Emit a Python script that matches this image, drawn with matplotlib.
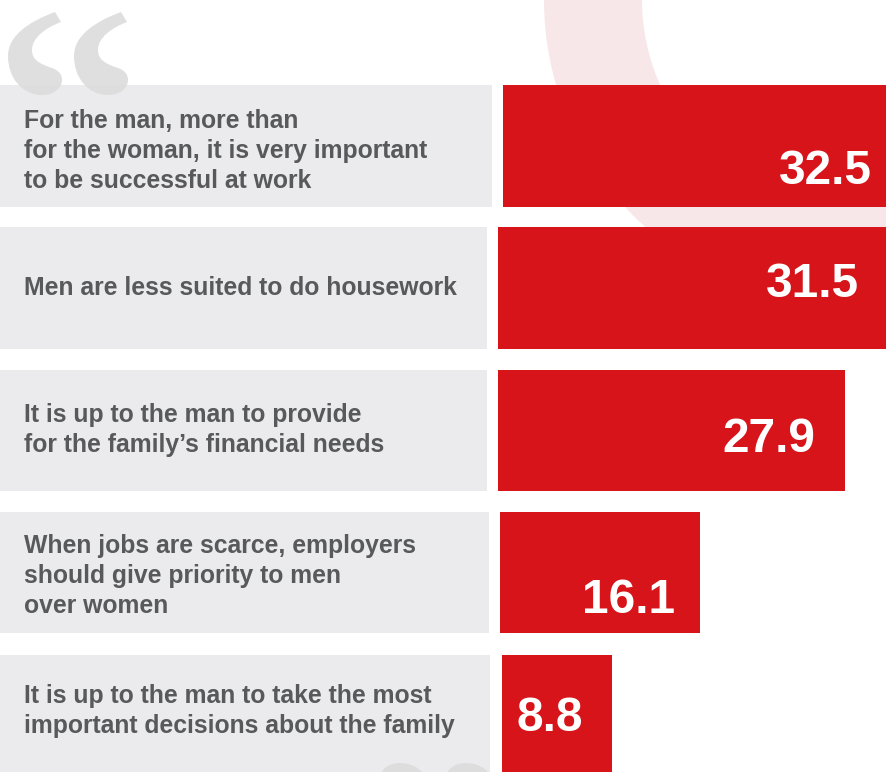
from matplotlib import pyplot as plt
from matplotlib.patches import PathPatch, Wedge
from matplotlib.path import Path
from matplotlib.transforms import Affine2D

W, H = 887, 772
PX_PER_UNIT = 12.45

labels = ["For the man, more than\nfor the woman, it is very important\nto be successful at work",
          "Men are less suited to do housework",
          "It is up to the man to provide\nfor the family\u2019s financial needs",
          "When jobs are scarce, employers\nshould give priority to men\nover women",
          "It is up to the man to take the most\nimportant decisions about the family"]
values = [32.5, 31.5, 27.9, 16.1, 8.8]
value_labels = ["32.5", "31.5", "27.9", "16.1", "8.8"]

# layout, in pixels
row_top = [85, 227, 370, 512, 655]
row_bot = [207, 349, 491, 633, 775]
grey_end = [492, 487, 487, 489, 490]
red_start = [503, 498, 498, 500, 502]
label_y = [151, 288, 430, 576, 711]
val_x = [872, 859, 815, 675, 583]
val_base = [184, 297, 452, 613, 731]

GREY = "#ebebed"
RED = "#d7141a"
TEXT = "#58595b"
QUOTE = "#dcdcdd"

plt.rcParams['font.family'] = ['Liberation Sans', 'DejaVu Sans']

fig = plt.figure(figsize=(W / 100, H / 100), dpi=100)
ax = fig.add_axes([0, 0, 1, 1])
ax.set_xlim(0, W)
ax.set_ylim(H, 0)
ax.axis('off')

# pale ring behind the bars
ax.add_patch(Wedge((849, 0), 305, 0, 360, width=98, facecolor="#f7e7e9", edgecolor='none', zorder=1))

for i in range(len(values)):
    ax.fill_between([0, grey_end[i]], row_top[i], row_bot[i], color=GREY, lw=0, zorder=2)

# quote marks, one crescent drawn four times
verts = [(55, 12), (28, 22), (8, 36), (8, 56), (8, 78), (22, 95), (42, 95),
         (54, 95), (62, 88), (62, 80), (62, 74), (58, 70), (52, 68),
         (40, 64), (32, 60), (32, 50), (32, 38), (45, 28), (61, 22), (55, 12)]
codes = [Path.MOVETO] + [Path.CURVE4] * 18 + [Path.CLOSEPOLY]
mark = Path(verts, codes)
for dx in [0, 66]:
    ax.add_patch(PathPatch(mark.transformed(Affine2D().translate(dx, 0)), facecolor=QUOTE, edgecolor='none', alpha=0.9, zorder=3))
    flip = Affine2D().scale(-1, -1).translate(442 + dx, 858)
    ax.add_patch(PathPatch(mark.transformed(flip), facecolor=QUOTE, edgecolor='none', alpha=0.9, zorder=3))

for i in range(len(labels)):
    ax.text(24, label_y[i], labels[i], ha='left', va='center', fontsize=17.85, fontweight='bold',
            color=TEXT, linespacing=1.31, zorder=4)

# bars on their own value scale
bx = fig.add_axes([0, 0, 1, 1], facecolor='none')
bx.set_xlim(0, W / PX_PER_UNIT)
bx.set_ylim(H, 0)
bx.axis('off')
for i in range(len(values)):
    bx.barh((row_top[i] + row_bot[i]) / 2, values[i], height=row_bot[i] - row_top[i],
            left=red_start[i] / PX_PER_UNIT, color=RED, lw=0)
    bx.text(val_x[i] / PX_PER_UNIT, val_base[i], value_labels[i], ha='right', va='baseline',
            fontsize=34.5, fontweight='bold', color='white')

plt.savefig("out.png", dpi=100)
